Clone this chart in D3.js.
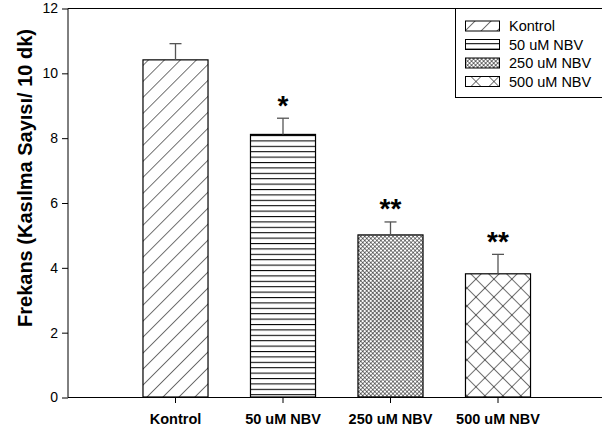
<!DOCTYPE html>
<html><head><meta charset="utf-8">
<script src="https://cdn.jsdelivr.net/npm/d3@7"></script>
<style>
body{margin:0;background:#fff;}
text{font-family:"Liberation Sans",Arial,Helvetica,sans-serif;}
</style></head>
<body><svg id="c" width="602" height="432"></svg>
<script>
const categories = ["Kontrol","50 uM NBV","250 uM NBV","500 uM NBV"];
const values = [10.4, 8.1, 5.0, 3.8];
const errors = [0.5, 0.5, 0.4, 0.6];
const stars = ["", "*", "**", "**"];
const yTicks = [0,2,4,6,8,10,12];
const patterns = ["diag","horiz","fine","cross"];
const yLabel = "Frekans (Kasılma Sayısı/ 10 dk)";

(function(){
const svg = d3.select("#c");
const defs = svg.append("defs");
function pat(id, size, rot, lines, sw){
  const p = defs.append("pattern").attr("id",id).attr("patternUnits","userSpaceOnUse")
    .attr("width",size).attr("height",size);
  if(rot) p.attr("patternTransform","rotate("+rot+")");
  p.append("rect").attr("width",size).attr("height",size).attr("fill","#fff");
  lines.forEach(l=>p.append("line").attr("x1",l[0]).attr("y1",l[1]).attr("x2",l[2]).attr("y2",l[3])
    .attr("stroke","#000").attr("stroke-width",sw));
}
pat("diag", 11.3, 45, [[0,-1,0,12.3]], 1.1);
pat("horiz", 5.4, 0, [[0,0.5,5.4,0.5]], 1.1);
pat("fine", 2.85, 45, [[0,-1,0,3.85],[-1,0,3.85,0]], 1);
pat("cross", 12.7, 45, [[0,-1,0,13.7],[-1,0,13.7,0]], 1.1);

const pLeft = 68, pTop = 8, pBottom = 397;
const y = d3.scaleLinear().domain([0,12]).range([pBottom, pTop]);
const x = d3.scaleBand().domain(categories).range([121.75, 551.75])
  .paddingInner(0.395).paddingOuter(0.1975);

svg.append("line").attr("x1",pLeft).attr("x2",602).attr("y1",pTop+0.5).attr("y2",pTop+0.5).attr("stroke","#000");
svg.append("line").attr("x1",pLeft).attr("x2",602).attr("y1",pBottom+0.5).attr("y2",pBottom+0.5).attr("stroke","#000");

const ya = svg.append("g").attr("transform",`translate(${pLeft},0.5)`)
  .call(d3.axisLeft(y).tickValues(yTicks).tickSize(6).tickPadding(4));
ya.select(".domain").attr("stroke","#000").attr("d",`M0,${pTop}V${pBottom}`);
ya.selectAll("text").attr("font-size",14).attr("fill","#000").style("font-family","'Liberation Sans',Arial,sans-serif");
ya.selectAll(".tick line").attr("stroke","#000");

const xa = svg.append("g").attr("transform",`translate(0,${pBottom})`)
  .call(d3.axisBottom(x).tickSize(6).tickPadding(11));
xa.select(".domain").remove();
xa.selectAll("text").attr("font-size",14.5).attr("font-weight","bold").attr("fill","#000")
  .style("font-family","'Liberation Sans',Arial,sans-serif");
xa.selectAll(".tick line").attr("stroke","#000");

svg.selectAll("rect.bar").data(categories).enter().append("rect").attr("class","bar")
  .attr("x",d=>x(d)).attr("width",x.bandwidth())
  .attr("y",(d,i)=>y(values[i])).attr("height",(d,i)=>y(0)-y(values[i]))
  .attr("fill",(d,i)=>`url(#${patterns[i]})`).attr("stroke","#000").attr("stroke-width",1.2);

const eb = svg.selectAll("g.eb").data(categories).enter().append("g").attr("class","eb");
eb.append("line").attr("x1",d=>x(d)+x.bandwidth()/2).attr("x2",d=>x(d)+x.bandwidth()/2)
  .attr("y1",(d,i)=>y(values[i])).attr("y2",(d,i)=>y(values[i]+errors[i])).attr("stroke","#555").attr("stroke-width",1.3);
eb.append("line").attr("x1",d=>x(d)+x.bandwidth()/2-6).attr("x2",d=>x(d)+x.bandwidth()/2+6)
  .attr("y1",(d,i)=>y(values[i]+errors[i])).attr("y2",(d,i)=>y(values[i]+errors[i])).attr("stroke","#555").attr("stroke-width",1.3);

svg.selectAll("text.star").data(categories).enter().append("text").attr("class","star")
  .attr("x",d=>x(d)+x.bandwidth()/2).attr("y",(d,i)=>y(values[i]+errors[i])-5)
  .attr("text-anchor","middle").attr("font-size",28).attr("font-weight","bold")
  .attr("dy","0.62em").attr("transform","translate(0,-16)")
  .text((d,i)=>stars[i]);

svg.append("text").attr("transform","translate(25,178) rotate(-90)").attr("text-anchor","middle")
  .attr("font-size",20).attr("font-weight","bold").attr("dy","0.35em").text(yLabel);

const lg = svg.append("g");
lg.append("rect").attr("x",455.5).attr("y",pTop+0.5).attr("width",160).attr("height",89)
  .attr("fill","#fff").attr("stroke","#000");
const ly = [26, 44.5, 63, 81.5];
categories.forEach((c,i)=>{
  lg.append("rect").attr("x",465.5).attr("y",ly[i]-5).attr("width",34).attr("height",10)
    .attr("fill",`url(#${patterns[i]})`).attr("stroke","#000");
  lg.append("text").attr("x",509).attr("y",ly[i]).attr("dy","0.35em").attr("font-size",14.5).text(c);
});
})();
</script></body></html>
